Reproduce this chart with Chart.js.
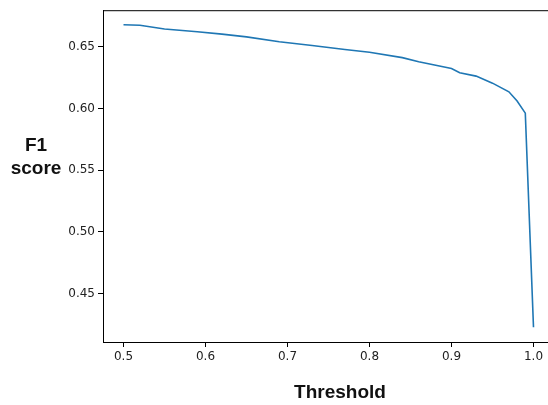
<!DOCTYPE html>
<html>
<head>
<meta charset="utf-8">
<script src="https://cdn.jsdelivr.net/npm/chart.js@4"></script>
<style>
  html, body { margin: 0; padding: 0; background: #fff; overflow: hidden; }
  #wrap { position: relative; width: 560px; height: 405px; }
</style>
</head>
<body>
<div id="wrap"><canvas id="chart" width="560" height="405"></canvas></div>
<script>
// threshold vs F1 score
const thresholds = [0.50, 0.52, 0.55, 0.59, 0.62, 0.65, 0.69, 0.73, 0.77, 0.80,
                    0.84, 0.86, 0.90, 0.91, 0.93, 0.95, 0.97, 0.98, 0.99, 1.00];
const f1Scores = [0.6678, 0.6674, 0.6644, 0.6622, 0.6602, 0.6580, 0.6540, 0.6510, 0.6478, 0.6455,
                  0.6412, 0.6378, 0.6324, 0.6290, 0.6262, 0.6205, 0.6135, 0.6060, 0.5962, 0.4228];
const xTicks = [0.5, 0.6, 0.7, 0.8, 0.9, 1.0];
const yTicks = [0.45, 0.50, 0.55, 0.60, 0.65];

const tickFont = { family: "DejaVu Sans", size: 12 };
const labelFont = "bold 19px 'Liberation Sans', Arial, sans-serif";

// frame + axis labels drawn on the canvas
const framePlugin = {
  id: "frame",
  afterDraw(chart) {
    const { ctx, chartArea: a } = chart;
    ctx.save();
    ctx.strokeStyle = "#000";
    ctx.lineWidth = 1;
    ctx.strokeRect(a.left + 0.5, a.top + 0.5, a.right - a.left, a.bottom - a.top);
    ctx.fillStyle = "#111";
    ctx.font = labelFont;
    ctx.textAlign = "center";
    ctx.textBaseline = "middle";
    ctx.fillText("Threshold", 340, 393);
    ctx.fillText("F1", 36, 146);
    ctx.fillText("score", 36, 169);
    ctx.restore();
  }
};

new Chart(document.getElementById("chart"), {
  type: "scatter",
  data: {
    datasets: [{
      data: thresholds.map((t, i) => ({ x: t, y: f1Scores[i] })),
      showLine: true,
      borderColor: "#1f77b4",
      borderWidth: 1.6,
      pointRadius: 0,
      tension: 0
    }]
  },
  options: {
    responsive: false,
    animation: false,
    layout: { padding: { top: 6, right: 6, left: 0, bottom: 0 } },
    plugins: { legend: { display: false }, tooltip: { enabled: false } },
    scales: {
      x: {
        type: "linear",
        min: 0.475,
        max: 1.025,
        afterFit(s) { s.height = 63; },
        afterBuildTicks(s) { s.ticks = xTicks.map(v => ({ value: v })); },
        ticks: {
          color: "#222",
          font: tickFont,
          padding: 3,
          callback: v => v.toFixed(1)
        },
        grid: { drawOnChartArea: false, drawTicks: true, tickLength: 5, tickColor: "#000" },
        border: { display: true, color: "#000", width: 1 }
      },
      y: {
        min: 0.4108,
        max: 0.6796,
        afterFit(s) { s.width = 103; },
        afterBuildTicks(s) { s.ticks = yTicks.map(v => ({ value: v })); },
        ticks: {
          color: "#222",
          font: tickFont,
          padding: 3,
          callback: v => v.toFixed(2)
        },
        grid: { drawOnChartArea: false, drawTicks: true, tickLength: 5, tickColor: "#000" },
        border: { display: true, color: "#000", width: 1 }
      }
    }
  },
  plugins: [framePlugin]
});
</script>
</body>
</html>
